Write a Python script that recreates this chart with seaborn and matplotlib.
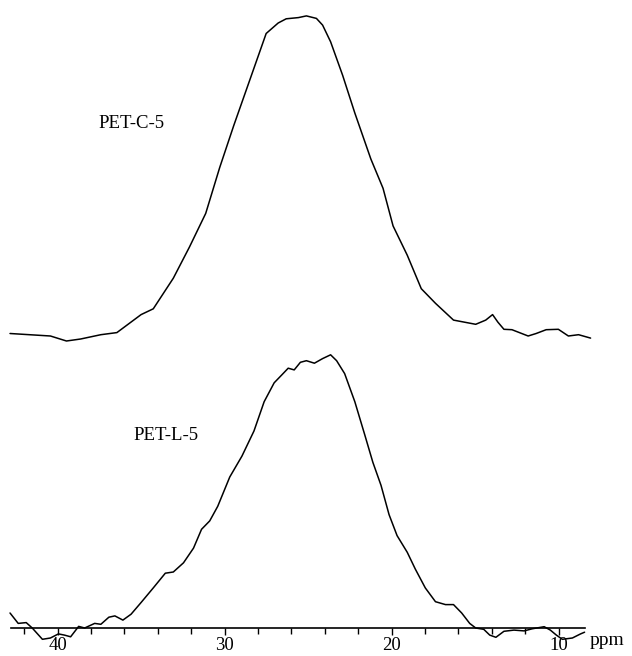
import numpy as np
import pandas as pd
import matplotlib
matplotlib.use("Agg")
import matplotlib.pyplot as plt
from matplotlib.ticker import FixedLocator
import seaborn as sns

# ---- data ----
top_ppm = [42.85, 40.43, 39.47, 38.62, 37.41, 36.45, 35.0, 34.27, 33.07, 32.10,
           31.13, 30.29, 29.45, 28.48, 27.51, 26.79, 26.31, 25.58, 25.10, 24.50,
           24.13, 23.65, 22.93, 22.20, 21.24, 20.51, 19.91, 19.06, 18.22, 17.37,
           16.29, 14.96, 14.36, 13.95, 13.63, 13.27, 12.79, 11.82, 11.34, 10.74,
           10.01, 9.41, 8.80, 8.08]
top_int = [294.5, 292.0, 287.0, 289.0, 293.3, 295.4, 313.4, 319.2, 349.8, 381.1,
           414.6, 460.6, 502.5, 548.5, 594.5, 605.0, 609.2, 610.4, 612.1, 609.6,
           602.9, 586.2, 552.7, 515.0, 469.0, 439.7, 402.1, 372.8, 339.3, 324.7,
           307.9, 303.7, 307.9, 313.4, 305.8, 298.7, 298.3, 292.0, 294.5, 298.3,
           298.7, 292.0, 293.3, 289.9]

bot_ppm = [42.85, 42.36, 41.88, 41.52, 40.91, 40.43, 39.95, 39.59, 39.22, 38.74,
           38.38, 37.78, 37.41, 36.93, 36.57, 36.09, 35.6, 35.0, 34.27, 33.55,
           33.07, 32.46, 31.86, 31.38, 30.89, 30.41, 29.69, 28.96, 28.24, 27.63,
           27.03, 26.55, 26.19, 25.83, 25.46, 25.10, 24.62, 24.13, 23.65, 23.29,
           22.81, 22.20, 21.60, 21.12, 20.63, 20.15, 19.67, 19.06, 18.58, 17.98,
           17.37, 16.77, 16.29, 15.80, 15.32, 14.96, 14.48, 14.12, 13.75, 13.27,
           12.67, 12.06, 11.58, 10.86, 10.49, 10.13, 9.77, 9.17, 8.68, 8.44]
bot_int = [15.0, 4.6, 5.4, 0.0, -11.3, -10.0, -5.9, -7.1, -8.8, 1.6,
           0.0, 4.6, 3.7, 10.8, 12.1, 7.9, 13.8, 25.5, 40.1, 54.8,
           56.0, 65.2, 79.9, 98.7, 107.1, 121.7, 151.0, 171.9, 197.0, 226.3,
           245.2, 253.5, 259.8, 258.1, 265.7, 267.3, 264.8, 269.4, 273.2, 267.3,
           254.4, 226.3, 192.9, 165.7, 142.6, 113.4, 92.4, 75.7, 59.0, 40.1,
           26.3, 23.4, 23.4, 15.0, 4.6, 0.0, -1.3, -7.1, -9.3, -3.3,
           -2.1, -2.9, -0.8, 1.3, -2.1, -7.1, -11.3, -10.0, -5.9, -4.2]

series_labels = ["PET-C-5", "PET-L-5"]
major_ticks = [40, 30, 20, 10]
minor_ticks = [42, 38, 36, 34, 32, 28, 26, 24, 22, 18, 16, 14, 12]
x_unit = "ppm"

# ---- plotting ----
sns.set_theme(style="white")
plt.rcParams["font.family"] = ["Liberation Serif", "DejaVu Serif"]

fig = plt.figure(figsize=(6.32, 6.56), dpi=100)
ax = fig.add_axes([0, 0, 1, 1])

df_top = pd.DataFrame({"ppm": top_ppm, "I": top_int})
df_bot = pd.DataFrame({"ppm": bot_ppm, "I": bot_int})
sns.lineplot(data=df_top, x="ppm", y="I", sort=False, estimator=None,
             color="black", linewidth=1.1, ax=ax)
sns.lineplot(data=df_bot, x="ppm", y="I", sort=False, estimator=None,
             color="black", linewidth=1.1, ax=ax)

ax.set_xlim(43.45, 5.60)
ax.set_ylim(-28, 628)

for s in ["top", "left", "right"]:
    ax.spines[s].set_visible(False)
ax.spines["bottom"].set_position(("data", 0))
ax.spines["bottom"].set_bounds(42.8, 8.4)
ax.spines["bottom"].set_color("black")
ax.spines["bottom"].set_linewidth(1.2)

ax.xaxis.set_major_locator(FixedLocator(major_ticks))
ax.xaxis.set_minor_locator(FixedLocator(minor_ticks))
ax.tick_params(axis="x", which="major", direction="out", length=5, width=1.0,
               color="black", bottom=True, labelsize=13.5, pad=1.5, labelcolor="black")
ax.tick_params(axis="x", which="minor", direction="out", length=4, width=1.0,
               color="black", bottom=True)
ax.set_yticks([])
ax.set_xlabel("")
ax.set_ylabel("")
ax.grid(False)

ax.text(8.15, -17, x_unit, fontsize=14, ha="left", va="baseline", color="black")
ax.text(35.6, 505, series_labels[0], fontsize=13.5, ha="center", va="center", color="black")
ax.text(33.5, 193, series_labels[1], fontsize=13.5, ha="center", va="center", color="black")

fig.savefig("out.png", dpi=100, facecolor="white")
